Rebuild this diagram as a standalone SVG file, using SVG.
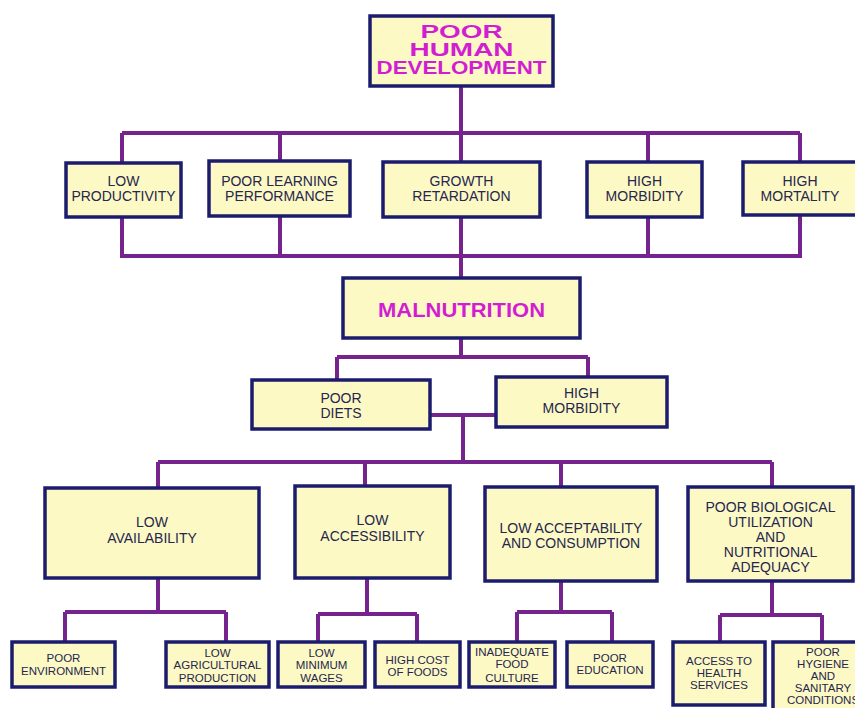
<svg xmlns="http://www.w3.org/2000/svg" width="855" height="708" viewBox="0 0 855 708">
<style>
.bx{fill:#fcf9c4;stroke:#1c1c6e;stroke-width:3.5}
.t{font-family:"Liberation Sans",Arial,sans-serif;fill:#26264e;text-anchor:middle}
.m{font-size:14px}
.s{font-size:11.5px}
.h{font-family:"Liberation Sans",Arial,sans-serif;font-weight:bold;fill:#d21ed2;text-anchor:middle}
#connectors path{fill:none;stroke:#74248c;stroke-width:4;stroke-linejoin:miter}
</style>
<rect width="855" height="708" fill="#ffffff"/>
<g id="connectors">
<path d="M461 86V133M122 133H800M122 133V163M280 133V161M648 133V162M800 133V162"/>
<path d="M122 217V256H800V215M280 216V256M648 217V256M461 133V278"/>
<path d="M461 338V357M337 357H588M337 357V380M588 357V377"/>
<path d="M430 415H496M463 415V462"/>
<path d="M158 462H772M158 462V488M365 462V486M561 462V487M772 462V487"/>
<path d="M158 578V612M65 612H226M65 612V642M226 612V642"/>
<path d="M367 578V614M318 614H417M318 614V642M417 614V642"/>
<path d="M561 581V612M517 612H612M517 612V642M612 612V642"/>
<path d="M772 581V615M720 615H822M720 615V642M822 615V642"/>
</g>
<g id="poor-human-development">
<rect class="bx" x="370" y="16" width="183" height="70"/>
<text class="h" font-size="19" x="461.5" y="38" textLength="82" lengthAdjust="spacingAndGlyphs">POOR</text>
<text class="h" font-size="19" x="461.5" y="56" textLength="104" lengthAdjust="spacingAndGlyphs">HUMAN</text>
<text class="h" font-size="19" x="461.5" y="74" textLength="170" lengthAdjust="spacingAndGlyphs">DEVELOPMENT</text>
</g>
<g id="low-productivity">
<rect class="bx" x="66" y="163" width="115" height="54"/>
<text class="t m" x="123.5" y="186">LOW</text>
<text class="t m" x="123.5" y="201">PRODUCTIVITY</text>
</g>
<g id="poor-learning">
<rect class="bx" x="209" y="161" width="141" height="55"/>
<text class="t m" x="279.5" y="186">POOR LEARNING</text>
<text class="t m" x="279.5" y="201">PERFORMANCE</text>
</g>
<g id="growth-retardation">
<rect class="bx" x="383" y="162" width="157" height="55"/>
<text class="t m" x="461.5" y="186">GROWTH</text>
<text class="t m" x="461.5" y="201">RETARDATION</text>
</g>
<g id="high-morbidity-1">
<rect class="bx" x="587" y="162" width="115" height="55"/>
<text class="t m" x="644.5" y="186">HIGH</text>
<text class="t m" x="644.5" y="201">MORBIDITY</text>
</g>
<g id="high-mortality">
<rect class="bx" x="743" y="162" width="114" height="53"/>
<text class="t m" x="800" y="186">HIGH</text>
<text class="t m" x="800" y="201">MORTALITY</text>
</g>
<g id="malnutrition">
<rect class="bx" x="343" y="278" width="237" height="60"/>
<text class="h" font-size="20" x="461.5" y="317" textLength="167" lengthAdjust="spacingAndGlyphs">MALNUTRITION</text>
</g>
<g id="poor-diets">
<rect class="bx" x="252" y="380" width="178" height="49"/>
<text class="t m" x="341" y="403">POOR</text>
<text class="t m" x="341" y="418">DIETS</text>
</g>
<g id="high-morbidity-2">
<rect class="bx" x="496" y="377" width="171" height="50"/>
<text class="t m" x="581.5" y="398">HIGH</text>
<text class="t m" x="581.5" y="413">MORBIDITY</text>
</g>
<g id="low-availability">
<rect class="bx" x="45" y="488" width="214" height="90"/>
<text class="t m" x="152" y="527">LOW</text>
<text class="t m" x="152" y="543">AVAILABILITY</text>
</g>
<g id="low-accessibility">
<rect class="bx" x="295" y="486" width="155" height="92"/>
<text class="t m" x="372.5" y="525">LOW</text>
<text class="t m" x="372.5" y="541">ACCESSIBILITY</text>
</g>
<g id="low-acceptability">
<rect class="bx" x="485" y="487" width="172" height="94"/>
<text class="t m" x="571" y="533">LOW ACCEPTABILITY</text>
<text class="t m" x="571" y="548">AND CONSUMPTION</text>
</g>
<g id="poor-biological">
<rect class="bx" x="688" y="487" width="165" height="94"/>
<text class="t m" x="770.5" y="512">POOR BIOLOGICAL</text>
<text class="t m" x="770.5" y="527">UTILIZATION</text>
<text class="t m" x="770.5" y="542">AND</text>
<text class="t m" x="770.5" y="557">NUTRITIONAL</text>
<text class="t m" x="770.5" y="572">ADEQUACY</text>
</g>
<g id="poor-environment">
<rect class="bx" x="12" y="642" width="103" height="45"/>
<text class="t s" x="63.5" y="662">POOR</text>
<text class="t s" x="63.5" y="675">ENVIRONMENT</text>
</g>
<g id="low-agricultural">
<rect class="bx" x="166" y="642" width="103" height="45"/>
<text class="t s" x="217.5" y="657">LOW</text>
<text class="t s" x="217.5" y="669">AGRICULTURAL</text>
<text class="t s" x="217.5" y="682">PRODUCTION</text>
</g>
<g id="low-minimum-wages">
<rect class="bx" x="278" y="642" width="87" height="45"/>
<text class="t s" x="321.5" y="657">LOW</text>
<text class="t s" x="321.5" y="669">MINIMUM</text>
<text class="t s" x="321.5" y="682">WAGES</text>
</g>
<g id="high-cost">
<rect class="bx" x="375" y="642" width="85" height="45"/>
<text class="t s" x="417.5" y="664">HIGH COST</text>
<text class="t s" x="417.5" y="676">OF FOODS</text>
</g>
<g id="inadequate-food">
<rect class="bx" x="469" y="642" width="86" height="45"/>
<text class="t s" x="512" y="656">INADEQUATE</text>
<text class="t s" x="512" y="668">FOOD</text>
<text class="t s" x="512" y="682">CULTURE</text>
</g>
<g id="poor-education">
<rect class="bx" x="567" y="642" width="86" height="45"/>
<text class="t s" x="610" y="662">POOR</text>
<text class="t s" x="610" y="674">EDUCATION</text>
</g>
<g id="access-health">
<rect class="bx" x="673" y="642" width="92" height="63"/>
<text class="t s" x="719" y="665">ACCESS TO</text>
<text class="t s" x="719" y="677">HEALTH</text>
<text class="t s" x="719" y="689">SERVICES</text>
</g>
<g id="poor-hygiene">
<rect class="bx" x="773" y="642" width="100" height="72"/>
<text class="t s" x="823" y="656">POOR</text>
<text class="t s" x="823" y="668">HYGIENE</text>
<text class="t s" x="823" y="680">AND</text>
<text class="t s" x="823" y="692">SANITARY</text>
<text class="t s" x="823" y="704">CONDITIONS</text>
</g>
</svg>
